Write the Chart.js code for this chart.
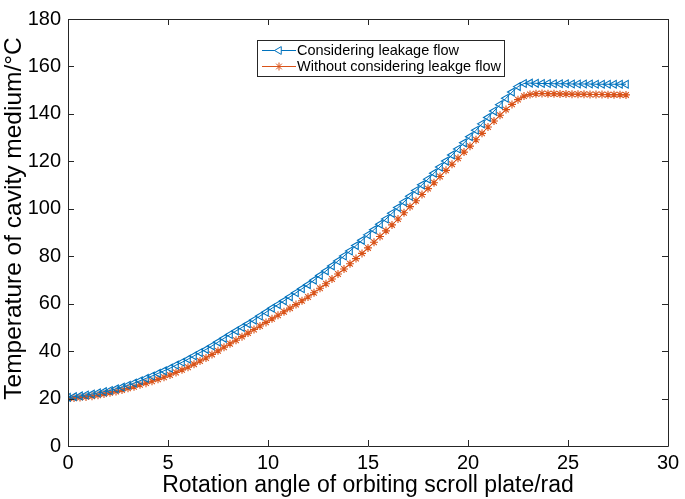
<!DOCTYPE html>
<html>
<head>
<meta charset="utf-8">
<title>Temperature of cavity medium</title>
<script src="https://cdn.jsdelivr.net/npm/chart.js@4.4.1/dist/chart.umd.min.js"></script>
<style>
    html, body { margin: 0; padding: 0; background: #ffffff; }
    #wrap { width: 685px; height: 499px; }
</style>
</head>
<body>
<div id="wrap"><canvas id="chartTemp" width="685" height="499"></canvas></div>
<script>
// rotation angle of orbiting scroll plate (rad)
const angles = [
    0, 0.3, 0.6, 0.9, 1.2, 1.5, 1.8, 2.1, 2.4, 2.7,
    3.0, 3.3, 3.6, 3.9, 4.2, 4.5, 4.8, 5.1, 5.4, 5.7,
    6.0, 6.3, 6.6, 6.9, 7.2, 7.5, 7.8, 8.1, 8.4, 8.7,
    9.0, 9.3, 9.6, 9.9, 10.2, 10.5, 10.8, 11.1, 11.4, 11.7,
    12.0, 12.3, 12.6, 12.9, 13.2, 13.5, 13.8, 14.1, 14.4, 14.7,
    15.0, 15.3, 15.6, 15.9, 16.2, 16.5, 16.8, 17.1, 17.4, 17.7,
    18.0, 18.3, 18.6, 18.9, 19.2, 19.5, 19.8, 20.1, 20.4, 20.7,
    21.0, 21.3, 21.6, 21.9, 22.2, 22.5, 22.8, 23.1, 23.4, 23.7,
    24.0, 24.3, 24.6, 24.9, 25.2, 25.5, 25.8, 26.1, 26.4, 26.7,
    27.0, 27.3, 27.6, 27.9
];

// considering leakage flow (°C)
const tempLeak = [
    20.5, 20.8, 21.1, 21.5, 21.9, 22.4, 22.9, 23.4, 24.1, 24.8,
    25.6, 26.5, 27.5, 28.5, 29.5, 30.6, 31.7, 32.8, 34.1, 35.3,
    36.6, 38.0, 39.4, 40.7, 42.2, 43.8, 45.4, 47.0, 48.5, 50.0,
    51.5, 53.1, 54.8, 56.4, 58.1, 59.6, 61.2, 62.9, 64.6, 66.3,
    68.0, 69.9, 71.9, 73.8, 75.9, 78.0, 80.1, 82.2, 84.5, 86.7,
    89.0, 91.2, 93.5, 95.7, 98.1, 100.5, 102.9, 105.3, 107.7, 110.1,
    112.5, 115.0, 117.6, 120.1, 122.7, 125.2, 127.8, 130.4, 133.1, 135.8,
    138.5, 141.2, 143.9, 146.6, 149.2, 151.5, 152.8, 153.0, 152.9, 152.8,
    152.8, 152.7, 152.7, 152.7, 152.6, 152.6, 152.6, 152.6, 152.5, 152.5,
    152.5, 152.5, 152.5, 152.5
];

// without considering leakage flow (°C)
const tempNoLeak = [
    20.0, 20.2, 20.4, 20.7, 21.0, 21.4, 21.9, 22.4, 23.0, 23.6,
    24.3, 25.0, 25.8, 26.5, 27.3, 28.1, 29.0, 29.9, 31.0, 32.1,
    33.2, 34.5, 35.8, 37.1, 38.6, 40.1, 41.6, 43.1, 44.6, 46.1,
    47.6, 49.1, 50.6, 52.1, 53.6, 55.1, 56.6, 58.1, 59.6, 61.2,
    62.8, 64.6, 66.5, 68.4, 70.4, 72.5, 74.6, 76.8, 79.0, 81.2,
    83.5, 85.9, 88.3, 90.7, 93.2, 95.7, 98.3, 100.9, 103.4, 106.0,
    108.5, 111.0, 113.6, 116.2, 118.8, 121.3, 123.9, 126.4, 129.1, 131.8,
    134.5, 137.0, 139.4, 141.8, 144.0, 146.0, 147.5, 148.2, 148.5, 148.6,
    148.5, 148.5, 148.4, 148.4, 148.3, 148.3, 148.3, 148.2, 148.2, 148.2,
    148.1, 148.1, 148.1, 148.0
];

const seriesNames = ['Considering leakage flow', 'Without considering leakge flow'];
const xTitle = 'Rotation angle of orbiting scroll plate/rad';
const yTitle = 'Temperature of cavity medium/\u00B0C';

const FONT = "'Liberation Sans', Arial, Helvetica, sans-serif";
const AXIS = '#262626';

// caja tipo MATLAB con ticks hacia dentro en los 4 lados
const boxAxes = {
    id: 'boxAxes',
    afterDatasetsDraw(chart) {
        const { ctx, chartArea: a, scales } = chart;
        const len = 6;
        ctx.save();
        ctx.strokeStyle = AXIS;
        ctx.lineWidth = 1;
        ctx.beginPath();
        ctx.rect(a.left + 0.5, a.top + 0.5, a.right - a.left, a.bottom - a.top);
        scales.x.ticks.forEach(t => {
            const px = Math.round(scales.x.getPixelForValue(t.value)) + 0.5;
            ctx.moveTo(px, a.bottom); ctx.lineTo(px, a.bottom - len);
            ctx.moveTo(px, a.top); ctx.lineTo(px, a.top + len);
        });
        scales.y.ticks.forEach(t => {
            const py = Math.round(scales.y.getPixelForValue(t.value)) + 0.5;
            ctx.moveTo(a.left, py); ctx.lineTo(a.left + len, py);
            ctx.moveTo(a.right, py); ctx.lineTo(a.right - len, py);
        });
        ctx.stroke();

        // título del eje Y (un poco por encima del centro, como en el original)
        ctx.fillStyle = '#000000';
        ctx.font = '24.5px ' + FONT;
        ctx.textAlign = 'center';
        ctx.textBaseline = 'middle';
        ctx.translate(14, (a.top + a.bottom) / 2 - 14);
        ctx.rotate(-Math.PI / 2);
        ctx.fillText(yTitle, 0, 0);
        ctx.restore();
    }
};

// leyenda dentro del área del gráfico
const boxLegend = {
    id: 'boxLegend',
    afterDraw(chart) {
        const { ctx, chartArea: a } = chart;
        const x0 = a.left + 189, y0 = a.top + 21, w = 247, h = 36;
        ctx.save();
        ctx.fillStyle = '#ffffff';
        ctx.fillRect(x0, y0, w, h);
        ctx.strokeStyle = AXIS;
        ctx.lineWidth = 1;
        ctx.strokeRect(x0 + 0.5, y0 + 0.5, w, h);
        ctx.font = '14.5px ' + FONT;
        ctx.textBaseline = 'middle';
        chart.data.datasets.forEach((ds, i) => {
            const cy = y0 + 10 + i * 16;
            ctx.strokeStyle = ds.borderColor;
            ctx.lineWidth = 1;
            ctx.beginPath();
            ctx.moveTo(x0 + 5, cy + 0.5);
            ctx.lineTo(x0 + 39, cy + 0.5);
            ctx.stroke();
            Chart.helpers.drawPoint(ctx, {
                pointStyle: ds.pointStyle,
                rotation: ds.pointRotation || 0,
                radius: ds.pointRadius,
                borderWidth: 1
            }, x0 + 22, cy + 0.5);
            ctx.fillStyle = '#000000';
            ctx.fillText(ds.label, x0 + 40, cy + 1);
        });
        ctx.restore();
    }
};

new Chart(document.getElementById('chartTemp').getContext('2d'), {
    type: 'scatter',
    data: {
        datasets: [
            {
                label: seriesNames[0],
                data: angles.map((x, i) => ({ x: x, y: tempLeak[i] })),
                showLine: true,
                borderColor: '#0072BD',
                backgroundColor: 'rgba(0,0,0,0)',
                borderWidth: 1,
                pointStyle: 'triangle',
                pointRotation: 270,
                pointRadius: 4.5,
                pointBorderWidth: 1.1,
                pointBorderColor: '#0072BD',
                pointBackgroundColor: 'rgba(0,0,0,0)'
            },
            {
                label: seriesNames[1],
                data: angles.map((x, i) => ({ x: x, y: tempNoLeak[i] })),
                showLine: true,
                borderColor: '#D95319',
                backgroundColor: 'rgba(0,0,0,0)',
                borderWidth: 1,
                pointStyle: 'star',
                pointRadius: 4,
                pointBorderWidth: 1.1,
                pointBorderColor: '#D95319',
                pointBackgroundColor: 'rgba(0,0,0,0)'
            }
        ]
    },
    options: {
        responsive: false,
        animation: false,
        layout: { autoPadding: false, padding: { top: 10, right: 17, left: 0, bottom: 0 } },
        plugins: {
            legend: { display: false },
            tooltip: { enabled: false }
        },
        scales: {
            x: {
                type: 'linear',
                min: 0,
                max: 30,
                grid: { display: false, drawTicks: false },
                border: { display: false },
                ticks: { stepSize: 5, color: '#000000', padding: 5, maxRotation: 0, font: { family: FONT, size: 20 } },
                title: { display: true, text: xTitle, color: '#000000', padding: { top: 0, bottom: 0 }, font: { family: FONT, size: 23 } },
                afterFit: (s) => { s.height = 53; }
            },
            y: {
                min: 0,
                max: 180,
                grid: { display: false, drawTicks: false },
                border: { display: false },
                ticks: { stepSize: 20, color: '#000000', padding: 7, font: { family: FONT, size: 20 } },
                title: { display: false, text: yTitle },
                afterFit: (s) => { s.width = 68; }
            }
        }
    },
    plugins: [boxAxes, boxLegend]
});
</script>
</body>
</html>
